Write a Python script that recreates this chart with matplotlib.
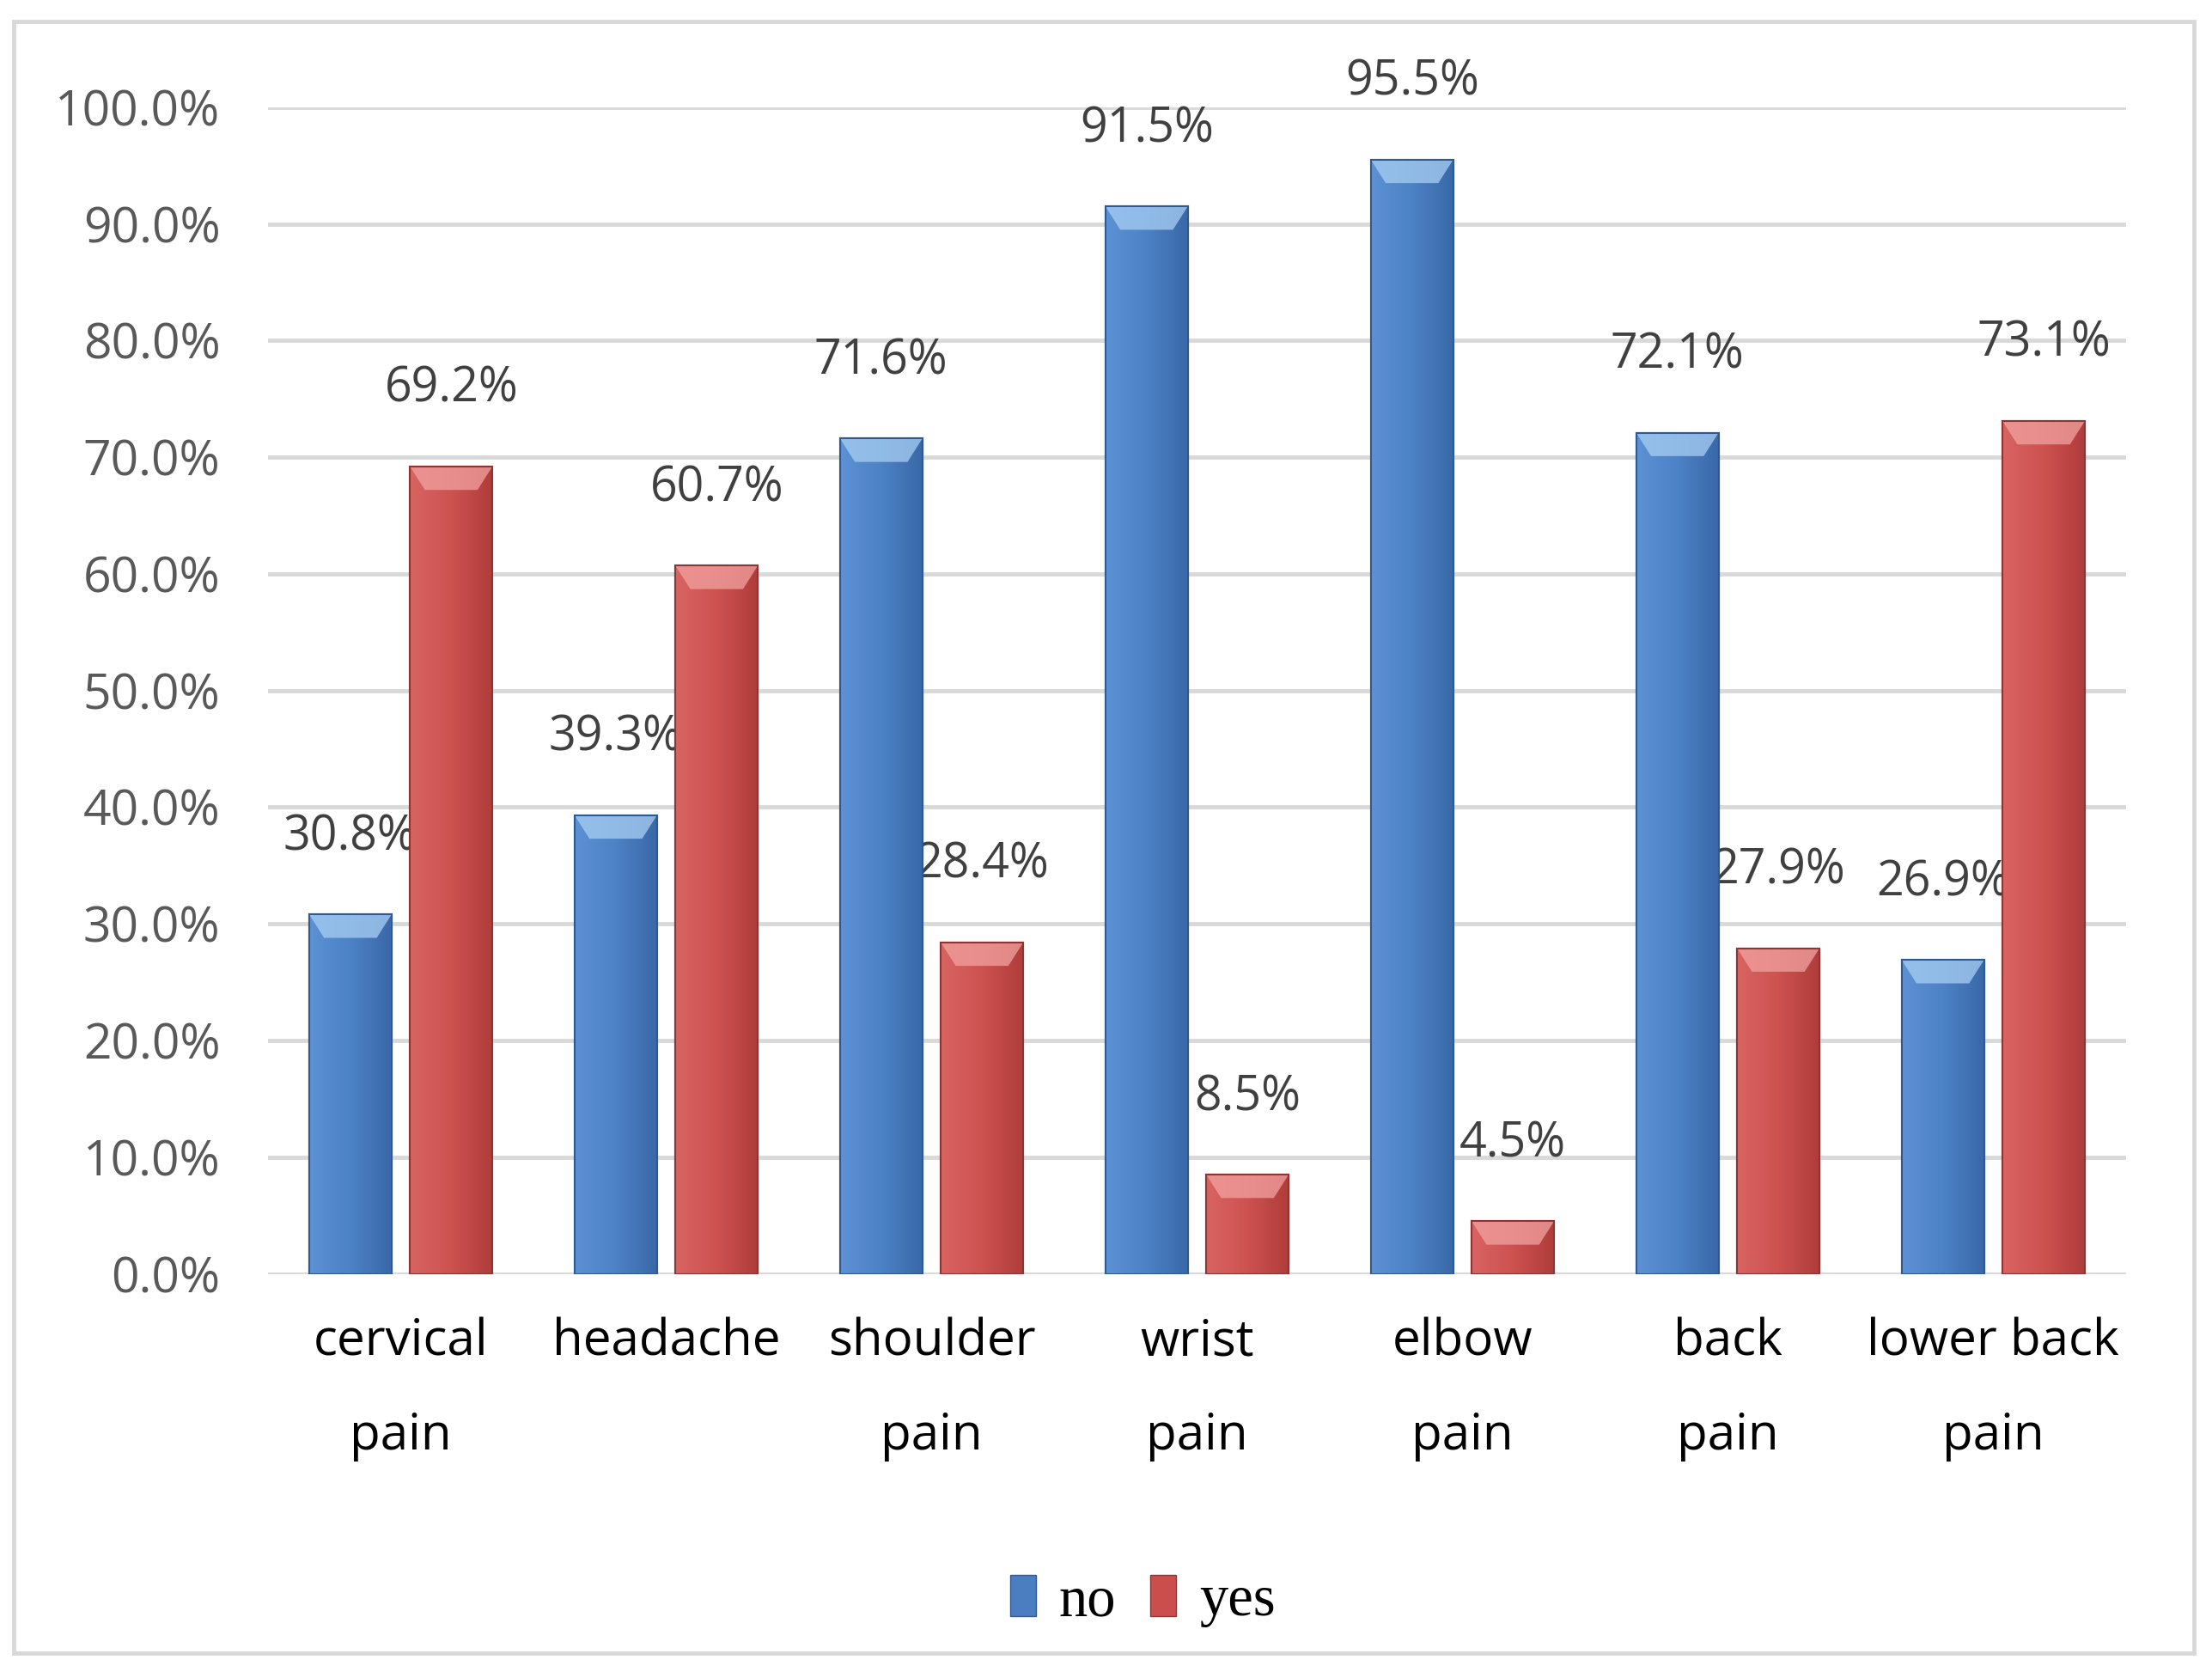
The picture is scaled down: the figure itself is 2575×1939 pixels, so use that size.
import numpy as np
import matplotlib.pyplot as plt
from matplotlib.patches import Polygon, Rectangle
from matplotlib.colors import LinearSegmentedColormap

# data
categories = ['cervical\npain', 'headache', 'shoulder\npain', 'wrist\npain',
              'elbow\npain', 'back\npain', 'lower back\npain']
no_vals = [30.8, 39.3, 71.6, 91.5, 95.5, 72.1, 26.9]
yes_vals = [69.2, 60.7, 28.4, 8.5, 4.5, 27.9, 73.1]
series_names = ['no', 'yes']

blue = '#4A7EC0'
red = '#CC4E4C'
blue_shades = ['#5C92D4', '#4C82C6', '#3A68A8']
red_shades = ['#D86462', '#CD5250', '#B03D3B']
blue_bevel = '#A9CFF3'
red_bevel = '#F2A3A1'

fig = plt.figure(figsize=(25.75, 19.39), dpi=100)
ax = fig.add_axes([0.1212, 0.2354, 0.8399, 0.7002])

x = np.arange(len(categories))
w = 0.31
off = 0.19


def fancy_bars(xpos, vals, base, shades, bevel, edge):
    bars = ax.bar(xpos, vals, w, color=base, edgecolor=edge, linewidth=1.5, zorder=3)
    cmap = LinearSegmentedColormap.from_list('g', shades)
    grad = np.linspace(0, 1, 64).reshape(1, -1)
    for r in bars:
        x0, h = r.get_x(), r.get_height()
        im = ax.imshow(grad, extent=[x0, x0 + w, 0, h], aspect='auto', cmap=cmap,
                       zorder=3.1, interpolation='bicubic')
        im.set_clip_path(r)
        d = min(2.0, h * 0.5)
        ax.add_patch(Polygon([(x0, h), (x0 + w, h), (x0 + w * 0.82, h - d), (x0 + w * 0.18, h - d)],
                             closed=True, facecolor=bevel, edgecolor='none', alpha=0.75, zorder=3.2))
        ax.add_patch(Rectangle((x0, 0), w, h, fill=False, edgecolor=edge, linewidth=1.5, zorder=3.3))
    return bars


b_no = fancy_bars(x - off, no_vals, blue, blue_shades, blue_bevel, '#2F5A91')
b_yes = fancy_bars(x + off, yes_vals, red, red_shades, red_bevel, '#8E3533')

lab_font = dict(family='Open Sans', fontsize=40, color='#404040')
for xs, vals in [(x - off, no_vals), (x + off, yes_vals)]:
    for xi, v in zip(xs, vals):
        ax.text(xi, v + 6.6, f'{v:.1f}%', ha='center', va='center', clip_on=False, **lab_font)

ax.set_xlim(-0.5, len(categories) - 0.5)
ax.set_ylim(0, 100)
ax.set_yticks(np.arange(0, 101, 10))
ax.set_yticklabels([f'{t:.1f}%' for t in np.arange(0, 101, 10)],
                   fontfamily='Open Sans', fontsize=41, color='#595959')
ax.set_xticks(x)
ax.set_xticklabels(categories, fontfamily='Open Sans', fontsize=42, color='black',
                   linespacing=2.15)
ax.tick_params(axis='y', length=0, pad=40)
ax.tick_params(axis='x', length=0, pad=36)
ax.yaxis.grid(True, color='#D9D9D9', linewidth=3.5)
ax.set_axisbelow(True)
for s in ax.spines.values():
    s.set_visible(False)

handles = [Rectangle((0, 0), 1, 1, facecolor=blue, edgecolor='#2F5A91'),
           Rectangle((0, 0), 1, 1, facecolor=red, edgecolor='#8E3533')]
fig.legend(handles, series_names, loc='center', bbox_to_anchor=(0.5166, 0.039),
           ncol=2, frameon=False, prop={'family': 'Liberation Serif', 'size': 48},
           handlelength=0.45, handleheight=0.75, handletextpad=0.4, columnspacing=0.6)

fig.add_artist(Rectangle((0.0064, 0.0076), 0.9853, 0.9797, transform=fig.transFigure,
                         fill=False, edgecolor='#D9D9D9', linewidth=3.5))

fig.savefig('out.png', dpi=100, facecolor='white')
